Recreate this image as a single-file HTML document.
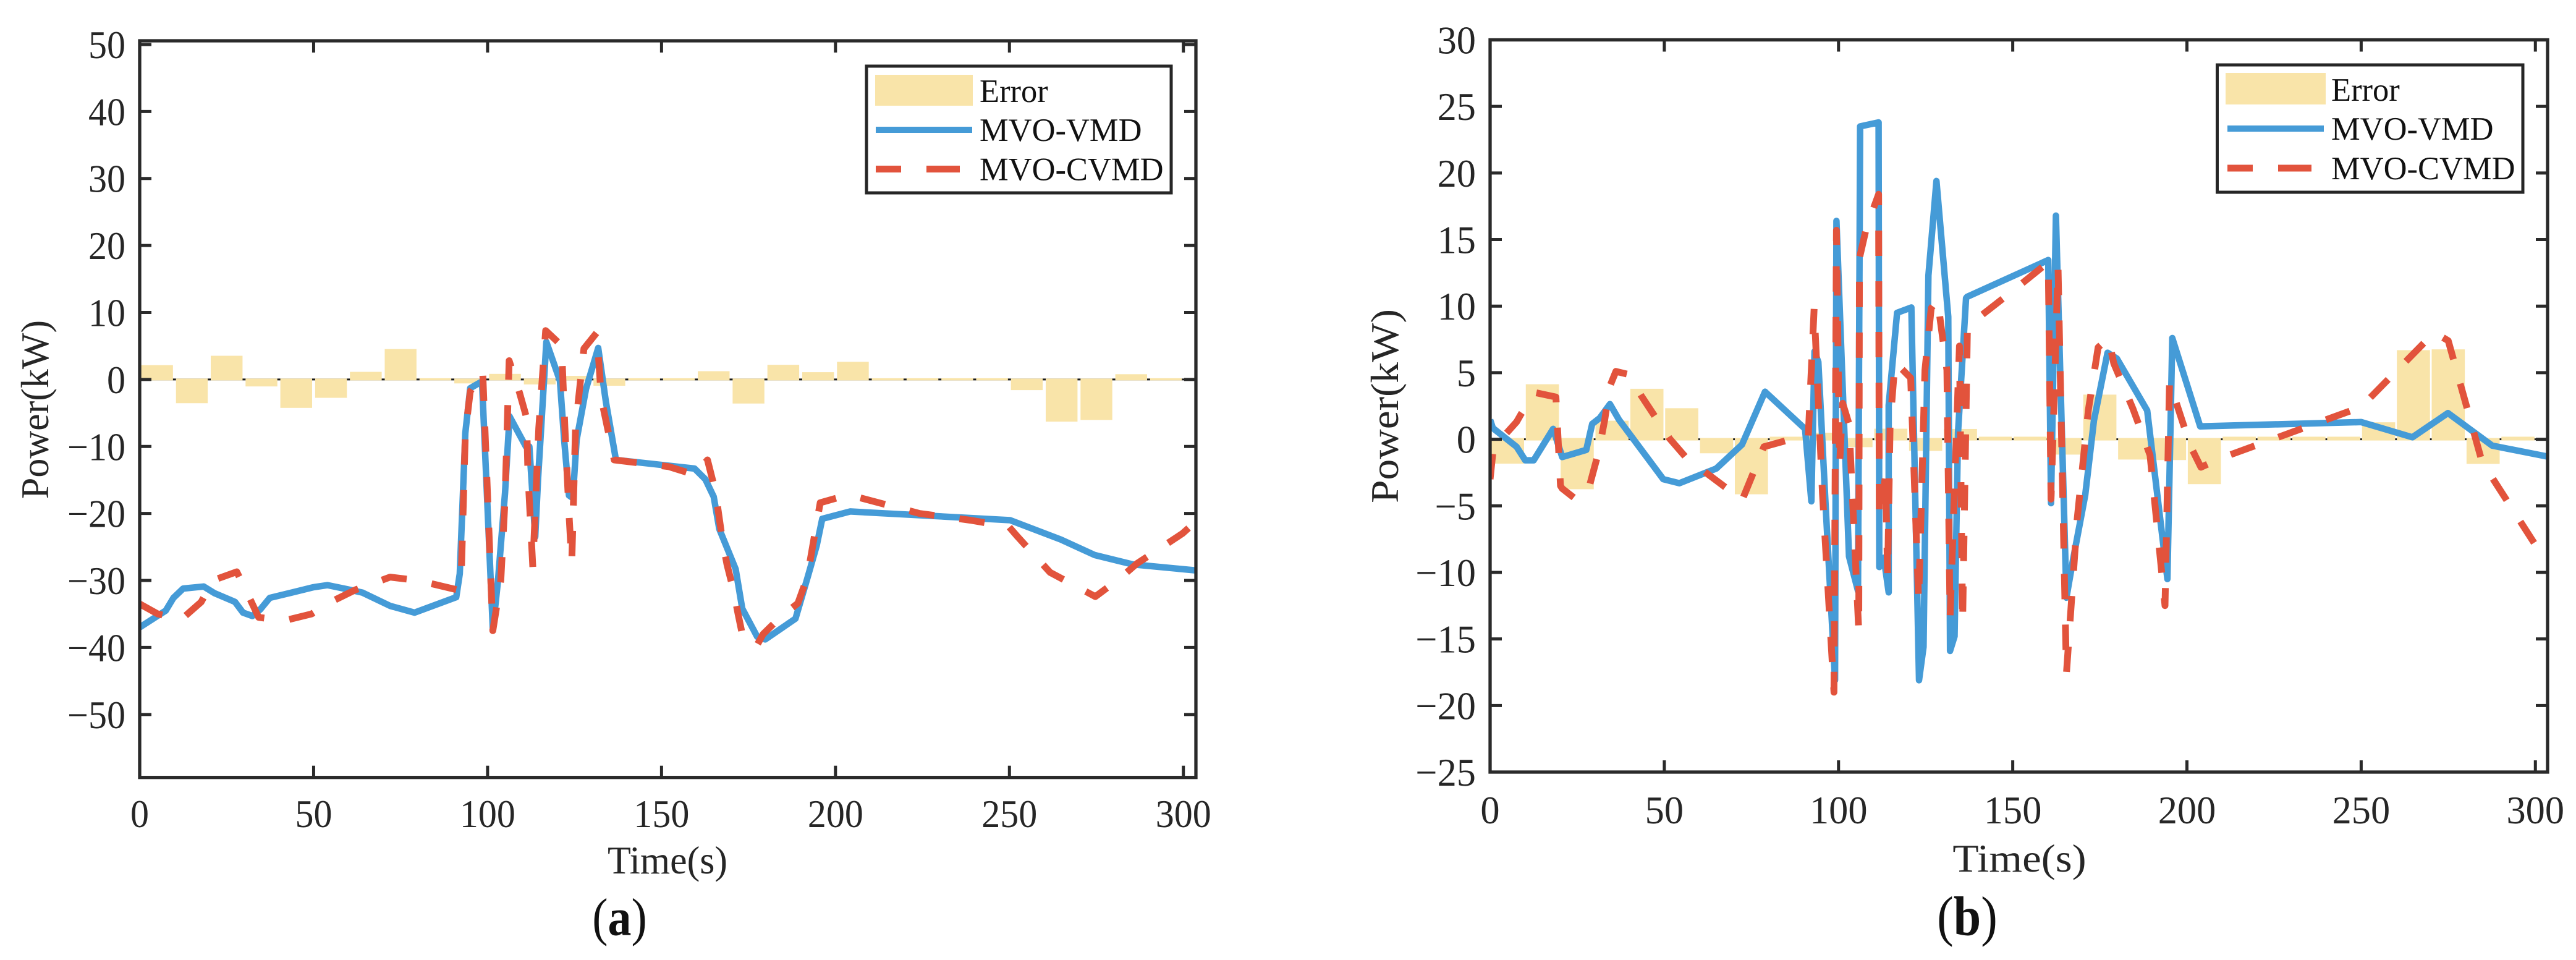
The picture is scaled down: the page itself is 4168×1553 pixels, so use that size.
<!DOCTYPE html>
<html lang="en">
<head>
<meta charset="utf-8">
<title>MVO-VMD vs MVO-CVMD power error charts</title>
<style>
html,body{margin:0;padding:0;background:#fff;}
svg{display:block;}
text{font-family:"Liberation Serif",serif;fill:#262626;}
.legend-text{font-size:52.5px;fill:#111;}
.axis-title{font-size:62px;}
.tick{font-size:60px;}
.caption{font-size:76px;fill:#111;}
</style>
</head>
<body>
<svg id="figure" xmlns="http://www.w3.org/2000/svg" width="4168" height="1553" viewBox="0 0 4168 1553">
  <rect x="0" y="0" width="4168" height="1553" fill="#fff"/>
  <g id="panel-a"></g>
  <g id="panel-b"></g>

  <text class="axis-title" text-anchor="middle" transform="translate(78,662.5) rotate(-90) scale(1,1.03)">Power(kW)</text>
  <text class="axis-title" text-anchor="middle" transform="translate(1080,1413) scale(1,1.03)">Time(s)</text>
  <text class="caption" text-anchor="middle" transform="translate(1002.5,1512.5) scale(1,1.13)">(<tspan font-weight="bold">a</tspan>)</text>

  <text class="axis-title" text-anchor="middle" transform="translate(2262,657) rotate(-90) scale(1.085,1.03)">Power(kW)</text>
  <text class="axis-title" text-anchor="middle" transform="translate(3267.5,1410) scale(1.115,1.03)">Time(s)</text>
  <text class="caption" text-anchor="middle" transform="translate(3183,1512.5) scale(1,1.13)" style="font-size:80px">(<tspan font-weight="bold">b</tspan>)</text>

  <g>
    <rect x="1402" y="107" width="493" height="205" fill="#fff" stroke="#262626" stroke-width="5"/>
    <rect x="1416" y="121" width="158" height="50" fill="#f9e4a9"/>
    <text class="legend-text" x="1585" y="165">Error</text>
    <line x1="1417" y1="210" x2="1573" y2="210" stroke="#459bd7" stroke-width="10"/>
    <text class="legend-text" x="1585" y="228">MVO-VMD</text>
    <line x1="1417" y1="273.5" x2="1458" y2="273.5" stroke="#e2533c" stroke-width="11"/>
    <line x1="1499" y1="273.5" x2="1553" y2="273.5" stroke="#e2533c" stroke-width="11"/>
    <text class="legend-text" x="1585" y="291.5">MVO-CVMD</text>
  </g>

  <g>
    <rect x="3587.5" y="105" width="494.5" height="206" fill="#fff" stroke="#262626" stroke-width="5"/>
    <rect x="3601" y="118" width="162" height="51" fill="#f9e4a9"/>
    <text class="legend-text" x="3772" y="163">Error</text>
    <line x1="3604" y1="208" x2="3760" y2="208" stroke="#459bd7" stroke-width="10"/>
    <text class="legend-text" x="3772" y="226">MVO-VMD</text>
    <line x1="3604" y1="272" x2="3645" y2="272" stroke="#e2533c" stroke-width="11"/>
    <line x1="3686" y1="272" x2="3740" y2="272" stroke="#e2533c" stroke-width="11"/>
    <text class="legend-text" x="3772" y="290">MVO-CVMD</text>
  </g>
</svg>

<script>
var xTickValues = [0, 50, 100, 150, 200, 250, 300];
var yTickValuesA = [50, 40, 30, 20, 10, 0, -10, -20, -30, -40, -50];
var yTickValuesB = [30, 25, 20, 15, 10, 5, 0, -5, -10, -15, -20, -25];
var barTimes = [5, 15, 25, 35, 45, 55, 65, 75, 85, 95, 105, 115, 125, 135, 145, 155, 165, 175, 185, 195, 205, 215, 225, 235, 245, 255, 265, 275, 285, 295];

var errorA = [2.0, -3.4, 3.4, -0.9, -4.1, -2.6, 1.0, 4.4, 0.05, -0.45, 0.7, -0.6, 0.4, -0.8, 0.05, 0.05, 1.1, -3.45, 2.05, 0.95, 2.5, 0.05, 0.05, 0.05, 0.05, -1.45, -6.15, -5.9, 0.65, 0.05];
var vmdTimeA = [0, 7.5, 9.7, 12.5, 18.4, 21.5, 27.4, 29.7, 32.4, 34.7, 37.4, 43.7, 50, 54, 59.6, 64, 72, 79, 91, 92, 93.6, 95, 98.4, 101.5, 103, 105, 106.3, 111, 112, 113.7, 114.5, 116.9, 120.8, 122, 123.4, 124.5, 125.6, 128.3, 131.8, 134, 136.9, 159.5, 162.6, 165, 166.6, 171.3, 173.2, 177.5, 179.8, 188.5, 191.9, 194.6, 196.2, 204.2, 250.2, 264.8, 274.5, 285.4, 303.6];
var vmdPowerA = [-37, -34.5, -32.6, -31.2, -30.9, -31.9, -33.2, -34.8, -35.3, -34.3, -32.6, -31.8, -31, -30.7, -31.3, -31.8, -33.8, -34.8, -32.5, -29, -8, -1.3, -0.3, -37.3, -30, -17, -5.5, -10, -10, -23.5, -15, 5.6, -0.2, -9, -17.3, -17.7, -9, -1.4, 4.7, -3.3, -12, -13.3, -14.9, -17.5, -22.3, -28.3, -34.2, -38.4, -38.8, -35.7, -29.7, -24.8, -20.8, -19.7, -21, -23.9, -26.2, -27.6, -28.5];
var cvmdTimeA = [0, 5.2, 12, 17.7, 21, 27.9, 31.3, 34.2, 41.5, 49.4, 55, 62, 72, 80, 91.3, 92.5, 93.6, 95, 98.6, 101.5, 103.8, 105, 106.2, 109.2, 111.2, 111.6, 113, 114.7, 116.7, 120.4, 121.3, 122.2, 123.5, 124.2, 125.3, 127.7, 131.4, 132.7, 136.4, 152, 159.5, 163.2, 165.5, 167.5, 168.8, 170.7, 172, 173.6, 177.5, 179.2, 184.5, 189.2, 191.9, 195.6, 203.7, 224.2, 238.7, 249.9, 252.4, 261.7, 274.7, 281.7, 286.6, 299.7, 303.6];
var cvmdPowerA = [-33.5, -35, -35.8, -33.2, -30, -28.7, -32.3, -35.5, -36, -35, -33.2, -31.4, -29.5, -30, -31.4, -28, -8, -1.8, 1.2, -37.5, -30, -18, 2.8, -2, -5.7, -14, -28, -7.3, 7.3, 5.5, 4.5, -7, -21, -27.3, -7, 4.6, 7, -2.9, -12, -13, -14.2, -12, -16.7, -24, -27.6, -31.5, -35, -39, -39.6, -38, -35.3, -33.4, -29.5, -18.4, -17.2, -20, -21, -22, -23.5, -28.8, -32.4, -29.7, -27.5, -23, -21.2];

var errorB = [-1.74, 4.04, -3.66, 1.3, 3.7, 2.24, -0.96, -4.04, 0.1, 0.4, -0.5, 0.7, -0.78, 0.68, 0.1, 0.1, -1.06, 3.26, -1.43, -1.47, -3.28, 0.1, 0.1, 0.1, 0.1, 1.18, 6.6, 6.66, -1.76, 0.1];
var vmdTimeB = [0, 0.8, 7.6, 10.1, 12.5, 18.1, 20.7, 27.6, 29.3, 31.5, 34.4, 37, 49.7, 54.3, 64.9, 72.3, 78.9, 90.4, 92.2, 93.1, 94.2, 96.3, 99, 99.4, 101.2, 103, 105.6, 106.2, 111.5, 111.7, 113, 114.4, 114.4, 116.8, 120.9, 123.1, 124.4, 125.8, 128.1, 131.5, 132, 133.3, 134.3, 136.6, 136.9, 160.2, 161, 162.4, 165.4, 167.2, 170.8, 173.3, 177.2, 179.9, 188.6, 194.4, 195.8, 203.8, 250, 264.7, 274.9, 287.6, 303.5];
var vmdPowerB = [1.46, 0.84, -0.56, -1.58, -1.58, 0.78, -1.34, -0.8, 1.15, 1.6, 2.64, 1.46, -3, -3.3, -2.2, -0.4, 3.57, 0.78, -4.66, 6.6, 5.8, -5, -18.1, 16.4, 3.9, -8.8, -11.4, 23.5, 23.8, -9.6, -8.9, -11.5, 2.55, 9.5, 9.9, -18.1, -15.6, 12.3, 19.4, 9.2, -15.9, -14.8, 0.5, 10.6, 10.7, 13.46, -4.8, 16.8, -11.9, -9.2, -4.2, 1.4, 6.5, 6.06, 2.16, -10.5, 7.6, 0.97, 1.29, 0.15, 1.97, -0.48, -1.3];
var cvmdTimeB = [0, 0.8, 4.4, 7.6, 8.9, 13, 18.9, 20.2, 20.7, 24.3, 27.9, 31.1, 32.9, 34.3, 36.1, 39.7, 43.3, 51.5, 56, 61.4, 67.8, 72.3, 78.6, 85, 91.3, 93, 95.4, 98.7, 99.4, 100.3, 101.2, 103, 105.8, 106, 108, 111.5, 111.7, 113.5, 114.1, 114.8, 116.2, 120.7, 123, 124.8, 126.6, 128.4, 131.1, 132, 134.7, 135.6, 137, 137.8, 149.8, 160.2, 161, 162, 163, 165.4, 168.5, 171.7, 174.5, 177.5, 179, 184.5, 189.4, 193.7, 195, 201, 204, 210, 250, 271, 275, 284.7, 300.9, 303.5];
var cvmdPowerB = [-3, -1, 0.37, 1.3, 1.9, 3.5, 3.17, -3.5, -3.7, -4.44, -4.1, -1, 1.46, 3.94, 5.1, 4.87, 3.3, 0.06, -1.3, -2.4, -3.66, -4.6, -0.56, -0.1, 0.15, 9.84, -4.1, -19, 15.7, -2, 2.7, 1.15, -14.4, 13.6, 15.9, 18.4, -6, -2.7, -10.3, 1.15, 5.8, 4.6, -12.2, 5.2, 9.84, 10.5, 5.2, -13.4, 7, -13.8, 8.3, 8.65, 11.1, 13.3, -4.5, 4, 13, -17.6, -6, 2.2, 6.9, 7.6, 5.7, 2.3, -1.2, -12.5, 4.3, -0.5, -2.1, -1.4, 2.43, 8.03, 7.4, -1.7, -8.3, -9];

var SVGNS = 'http://www.w3.org/2000/svg';

function makeScale(domainStart, domainEnd, rangeStart, rangeEnd) {
  return function (v) {
    return rangeStart + (v - domainStart) * (rangeEnd - rangeStart) / (domainEnd - domainStart);
  };
}

function create(tag, attrs, parent) {
  var el = document.createElementNS(SVGNS, tag);
  for (var k in attrs) { el.setAttribute(k, attrs[k]); }
  parent.appendChild(el);
  return el;
}

function linePoints(times, powers, sx, sy) {
  return times.map(function (t, i) {
    return sx(t).toFixed(1) + ',' + sy(powers[i]).toFixed(1);
  }).join(' ');
}

function drawPanel(cfg) {
  var root = document.getElementById(cfg.id);
  var sx = makeScale(cfg.xDomain[0], cfg.xDomain[1], cfg.left, cfg.right);
  var sy = makeScale(cfg.yDomain[0], cfg.yDomain[1], cfg.bottom, cfg.top);
  var w = cfg.right - cfg.left, h = cfg.bottom - cfg.top;
  var labelScale = 'scale(' + cfg.labelScaleX + ',1.06)';

  var defs = create('defs', {}, root);
  var clip = create('clipPath', { id: cfg.id + '-clip' }, defs);
  create('rect', { x: cfg.left, y: cfg.top, width: w, height: h }, clip);

  var baseline = create('line', { x1: cfg.left, x2: cfg.right, y1: sy(0), y2: sy(0), stroke: '#1a1a1a', 'stroke-width': 3 }, root);
  
  

  var bars = create('g', {}, root);
  
  
  barTimes.forEach(function (t, i) {
    var v = cfg.error[i];
    var x0 = sx(t - cfg.barWidth / 2), x1 = sx(t + cfg.barWidth / 2);
    var y0 = Math.min(sy(v), sy(0)), y1 = Math.max(sy(v), sy(0));
    var bar = create('rect', { x: x0, y: y0, width: x1 - x0, height: y1 - y0, fill: '#f9e4a9', stroke: '#f9e4a9', 'stroke-width': cfg.barStroke }, bars);
    
    
  });

  var plot = create('g', { 'clip-path': 'url(#' + cfg.id + '-clip)' }, root);
  
  

  var blue = create('polyline', { points: linePoints(cfg.vmdTime, cfg.vmdPower, sx, sy), fill: 'none', stroke: '#459bd7', 'stroke-width': 10.5, 'stroke-linejoin': 'round' }, plot);
  
  

  var red = create('polyline', { points: linePoints(cfg.cvmdTime, cfg.cvmdPower, sx, sy), fill: 'none', stroke: '#e2533c', 'stroke-width': 11, 'stroke-dasharray': '41 41', 'stroke-linejoin': 'round' }, plot);
  
  

  var tickLen = 19, tickStyle = { stroke: '#2a2a2a', 'stroke-width': 5 };
  var axes = create('g', {}, root);
  
  

  cfg.xTicks.forEach(function (v) {
    var x = sx(v);
    var t1 = create('line', Object.assign({ x1: x, x2: x, y1: cfg.bottom, y2: cfg.bottom - tickLen }, tickStyle), axes);
    
    
    var t2 = create('line', Object.assign({ x1: x, x2: x, y1: cfg.top, y2: cfg.top + tickLen }, tickStyle), axes);
    
    
    var lab = create('text', { transform: 'translate(' + x + ',' + cfg.xLabelY + ') ' + labelScale, 'text-anchor': 'middle', 'class': 'tick' }, axes);
    
    
    lab.textContent = String(v);
  });

  cfg.yTicks.forEach(function (v) {
    var y = sy(v);
    var t1 = create('line', Object.assign({ x1: cfg.left, x2: cfg.left + tickLen, y1: y, y2: y }, tickStyle), axes);
    
    
    var t2 = create('line', Object.assign({ x1: cfg.right, x2: cfg.right - tickLen, y1: y, y2: y }, tickStyle), axes);
    
    
    var lab = create('text', { transform: 'translate(' + (cfg.left - 23) + ',' + (y + 22) + ') ' + labelScale, 'text-anchor': 'end', 'class': 'tick' }, axes);
    
    
    lab.textContent = String(v).replace('-', '\u2212');
  });

  var box = create('rect', { x: cfg.left, y: cfg.top, width: w, height: h, fill: 'none', stroke: '#2a2a2a', 'stroke-width': 5.3 }, axes);
  
  
}

drawPanel({
  id: 'panel-a',
  left: 226, right: 1935, top: 66, bottom: 1257.7,
  xDomain: [0, 303.6], yDomain: [-59.4, 50.55],
  xTicks: xTickValues, yTicks: yTickValuesA,
  xLabelY: 1338, labelScaleX: 1, barWidth: 8.6, barStroke: 3,
  error: errorA,
  vmdTime: vmdTimeA, vmdPower: vmdPowerA,
  cvmdTime: cvmdTimeA, cvmdPower: cvmdPowerA
});

drawPanel({
  id: 'panel-b',
  left: 2411, right: 4122, top: 64.5, bottom: 1249,
  xDomain: [0, 303.5], yDomain: [-25, 30],
  xTicks: xTickValues, yTicks: yTickValuesB,
  xLabelY: 1332, labelScaleX: 1.04, barWidth: 8.8, barStroke: 4,
  error: errorB,
  vmdTime: vmdTimeB, vmdPower: vmdPowerB,
  cvmdTime: cvmdTimeB, cvmdPower: cvmdPowerB
});
</script>
</body>
</html>
